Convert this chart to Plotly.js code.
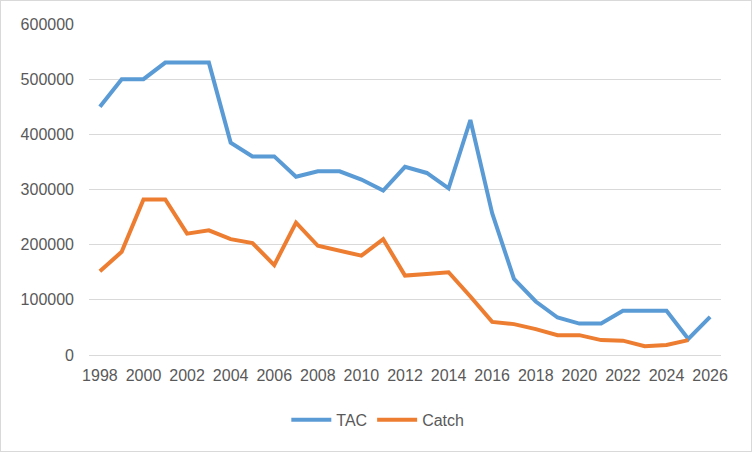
<!DOCTYPE html>
<html>
<head>
<meta charset="utf-8">
<script src="https://cdn.plot.ly/plotly-3.0.1.min.js"></script>
<style>
html,body{margin:0;padding:0;background:#fff;}
#chart{width:750px;height:450px;border:1px solid #D9D9D9;}
</style>
</head>
<body>
<div id="chart"></div>
<script>
const years = [1998,1999,2000,2001,2002,2003,2004,2005,2006,2007,2008,2009,2010,2011,2012,2013,2014,2015,2016,2017,2018,2019,2020,2021,2022,2023,2024,2025,2026];
const tac = [450000,500000,500000,530000,530000,530000,385000,360000,360000,323000,333000,333000,318000,298000,341000,330000,302000,426000,257000,138000,97000,68000,57000,57000,80000,80000,80000,29000,69000];
const catchYears = [1998,1999,2000,2001,2002,2003,2004,2005,2006,2007,2008,2009,2010,2011,2012,2013,2014,2015,2016,2017,2018,2019,2020,2021,2022,2023,2024,2025];
const catchVals = [152000,187000,282000,282000,220000,226000,210000,203000,163000,240000,198000,189000,180000,210000,144000,147000,150000,106000,60000,56000,47000,36000,36000,27000,26000,16000,18000,27000];
const seriesNames = ['TAC','Catch'];

const font = {family:'"Liberation Sans", Arial, sans-serif', size:16, color:'#595959'};
const traces = [
  {x:years, y:tac, name:seriesNames[0], type:'scatter', mode:'lines', line:{color:'#5B9BD5', width:4}},
  {x:catchYears, y:catchVals, name:seriesNames[1], type:'scatter', mode:'lines', line:{color:'#ED7D31', width:4}}
];
const layout = {
  width:750, height:450,
  margin:{l:88, r:30, t:23, b:96},
  paper_bgcolor:'#fff', plot_bgcolor:'#fff',
  font:font,
  showlegend:true,
  legend:{orientation:'h', x:0.457, xanchor:'center', y:-0.196, yanchor:'middle', font:font, itemwidth:40},
  xaxis:{range:[1997.5,2026.5], tickmode:'linear', tick0:1998, dtick:2, showgrid:false, showline:true, linecolor:'#D9D9D9', linewidth:1, zeroline:false, ticks:'', ticklabelstandoff:6, tickfont:font},
  yaxis:{range:[0,600000], tickmode:'linear', tick0:0, dtick:100000, showgrid:true, gridcolor:'#D9D9D9', gridwidth:1, zeroline:false, showline:false, ticks:'', tickformat:'d', ticklabelstandoff:14, tickfont:font}
};
Plotly.newPlot('chart', traces, layout, {displayModeBar:false, staticPlot:true});
</script>
</body>
</html>
